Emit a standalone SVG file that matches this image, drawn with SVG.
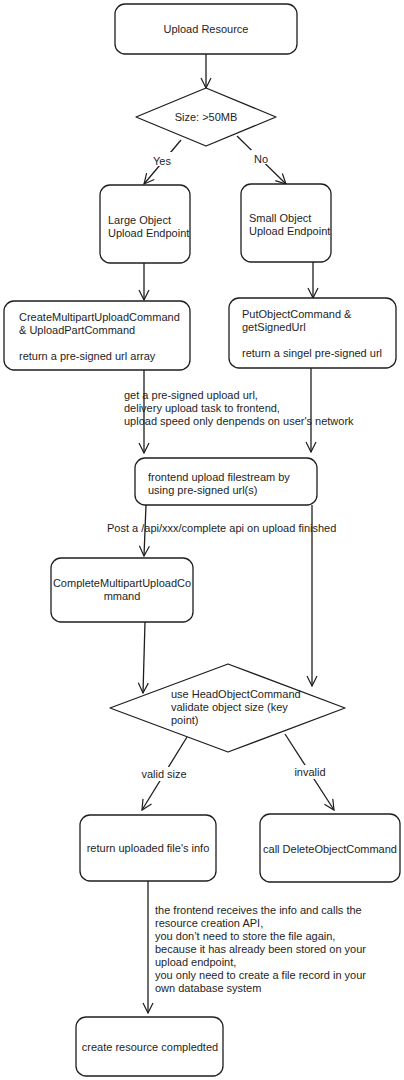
<svg xmlns="http://www.w3.org/2000/svg" width="404" height="1080" viewBox="0 0 404 1080">
<style>
.n{fill:#fff;stroke:#1e1e1e;stroke-width:1.3}
.t{font-family:"Liberation Sans",Arial,sans-serif;font-size:11px;fill:#1e1e1e}
.c{text-anchor:middle}
.e{fill:none;stroke:#1e1e1e;stroke-width:1.3}
</style>
<defs>
<marker id="a" viewBox="0 0 12 12" refX="11" refY="6" markerWidth="12" markerHeight="12" markerUnits="userSpaceOnUse" orient="auto">
<path d="M1,1 L11,6 L1,11" fill="none" stroke="#1e1e1e" stroke-width="1.2"/>
</marker>
</defs>
<rect width="404" height="1080" fill="#fff"/>
<g id="connectors">
<path class="e" d="M206,54 L206,88" marker-end="url(#a)"/>
<path class="e" d="M181,140 L144,184" marker-end="url(#a)"/>
<path class="e" d="M237,136 L286,184" marker-end="url(#a)"/>
<path class="e" d="M144,263 L144,300" marker-end="url(#a)"/>
<path class="e" d="M313,262 L313,298" marker-end="url(#a)"/>
<path class="e" d="M144,370 L144,453" marker-end="url(#a)"/>
<path class="e" d="M311,368 L311,452" marker-end="url(#a)"/>
<path class="e" d="M146,505 L144,556" marker-end="url(#a)"/>
<path class="e" d="M312,505 L312,686" marker-end="url(#a)"/>
<path class="e" d="M145,622 L143,693" marker-end="url(#a)"/>
<path class="e" d="M187,737 L142,810" marker-end="url(#a)"/>
<path class="e" d="M285,734 L334,810" marker-end="url(#a)"/>
<path class="e" d="M148,881 L148,1013" marker-end="url(#a)"/>
<rect x="150" y="152" width="24" height="14" fill="#fff"/>
<text class="t c" x="162" y="165">Yes</text>
<rect x="251" y="150" width="20" height="14" fill="#fff"/>
<text class="t c" x="261" y="163">No</text>
<text class="t" x="124" y="399">get a pre-signed upload url,</text>
<text class="t" x="124" y="412">delivery upload task to frontend,</text>
<text class="t" x="124" y="425">upload speed only denpends on user's network</text>
<text class="t" x="107" y="532">Post a /api/xxx/complete api on upload finished</text>
<rect x="137" y="767" width="54" height="14" fill="#fff"/>
<text class="t c" x="164" y="778">valid size</text>
<rect x="292" y="765" width="36" height="14" fill="#fff"/>
<text class="t c" x="310" y="776">invalid</text>
<text class="t" x="155" y="914">the frontend receives the info and calls the</text>
<text class="t" x="155" y="927">resource creation API,</text>
<text class="t" x="155" y="940">you don’t need to store the file again,</text>
<text class="t" x="155" y="953">because it has already been stored on your</text>
<text class="t" x="155" y="966">upload endpoint,</text>
<text class="t" x="155" y="979">you only need to create a file record in your</text>
<text class="t" x="155" y="992">own database system</text>
</g>
<g id="upload-resource">
<rect class="n" x="115" y="4" width="182" height="50" rx="10"/>
<text class="t c" x="206" y="33">Upload Resource</text>
</g>
<g id="size-check">
<path class="n" d="M206,88 L276,117 L206,146 L136,117 Z" stroke-linejoin="round"/>
<text class="t c" x="206" y="121">Size: &gt;50MB</text>
</g>
<g id="large-endpoint">
<rect class="n" x="100" y="185" width="90" height="78" rx="10"/>
<text class="t" x="108" y="224">Large Object</text>
<text class="t" x="108" y="237">Upload Endpoint</text>
</g>
<g id="small-endpoint">
<rect class="n" x="241" y="184" width="90" height="78" rx="10"/>
<text class="t" x="249" y="222">Small Object</text>
<text class="t" x="249" y="235">Upload Endpoint</text>
</g>
<g id="multipart">
<rect class="n" x="4" y="301" width="186" height="69" rx="10"/>
<text class="t" x="19" y="321">CreateMultipartUploadCommand</text>
<text class="t" x="19" y="334">&amp; UploadPartCommand</text>
<text class="t" x="19" y="360">return a pre-signed url array</text>
</g>
<g id="putobject">
<rect class="n" x="229" y="298" width="167" height="70" rx="10"/>
<text class="t" x="242" y="318">PutObjectCommand &amp;</text>
<text class="t" x="242" y="331">getSignedUrl</text>
<text class="t" x="242" y="357">return a singel pre-signed url</text>
</g>
<g id="frontend-upload">
<rect class="n" x="135" y="458" width="182" height="47" rx="10"/>
<text class="t" x="148" y="481">frontend upload filestream by</text>
<text class="t" x="148" y="494">using pre-signed url(s)</text>
</g>
<g id="complete-multipart">
<rect class="n" x="51" y="558" width="142" height="64" rx="10"/>
<text class="t c" x="122" y="587">CompleteMultipartUploadCo</text>
<text class="t c" x="122" y="600">mmand</text>
</g>
<g id="validate">
<path class="n" d="M228,664 L345,708 L228,752 L110,708 Z" stroke-linejoin="round"/>
<text class="t" x="171" y="698">use HeadObjectCommand</text>
<text class="t" x="171" y="711">validate object size (key</text>
<text class="t" x="171" y="724">point)</text>
</g>
<g id="return-info">
<rect class="n" x="80" y="815" width="136" height="66" rx="10"/>
<text class="t c" x="148" y="852">return uploaded file's info</text>
</g>
<g id="delete-object">
<rect class="n" x="260" y="814" width="140" height="68" rx="10"/>
<text class="t c" x="330" y="853">call DeleteObjectCommand</text>
</g>
<g id="create-resource">
<rect class="n" x="76" y="1017" width="147" height="59" rx="10"/>
<text class="t c" x="150" y="1051">create resource compledted</text>
</g>
</svg>
